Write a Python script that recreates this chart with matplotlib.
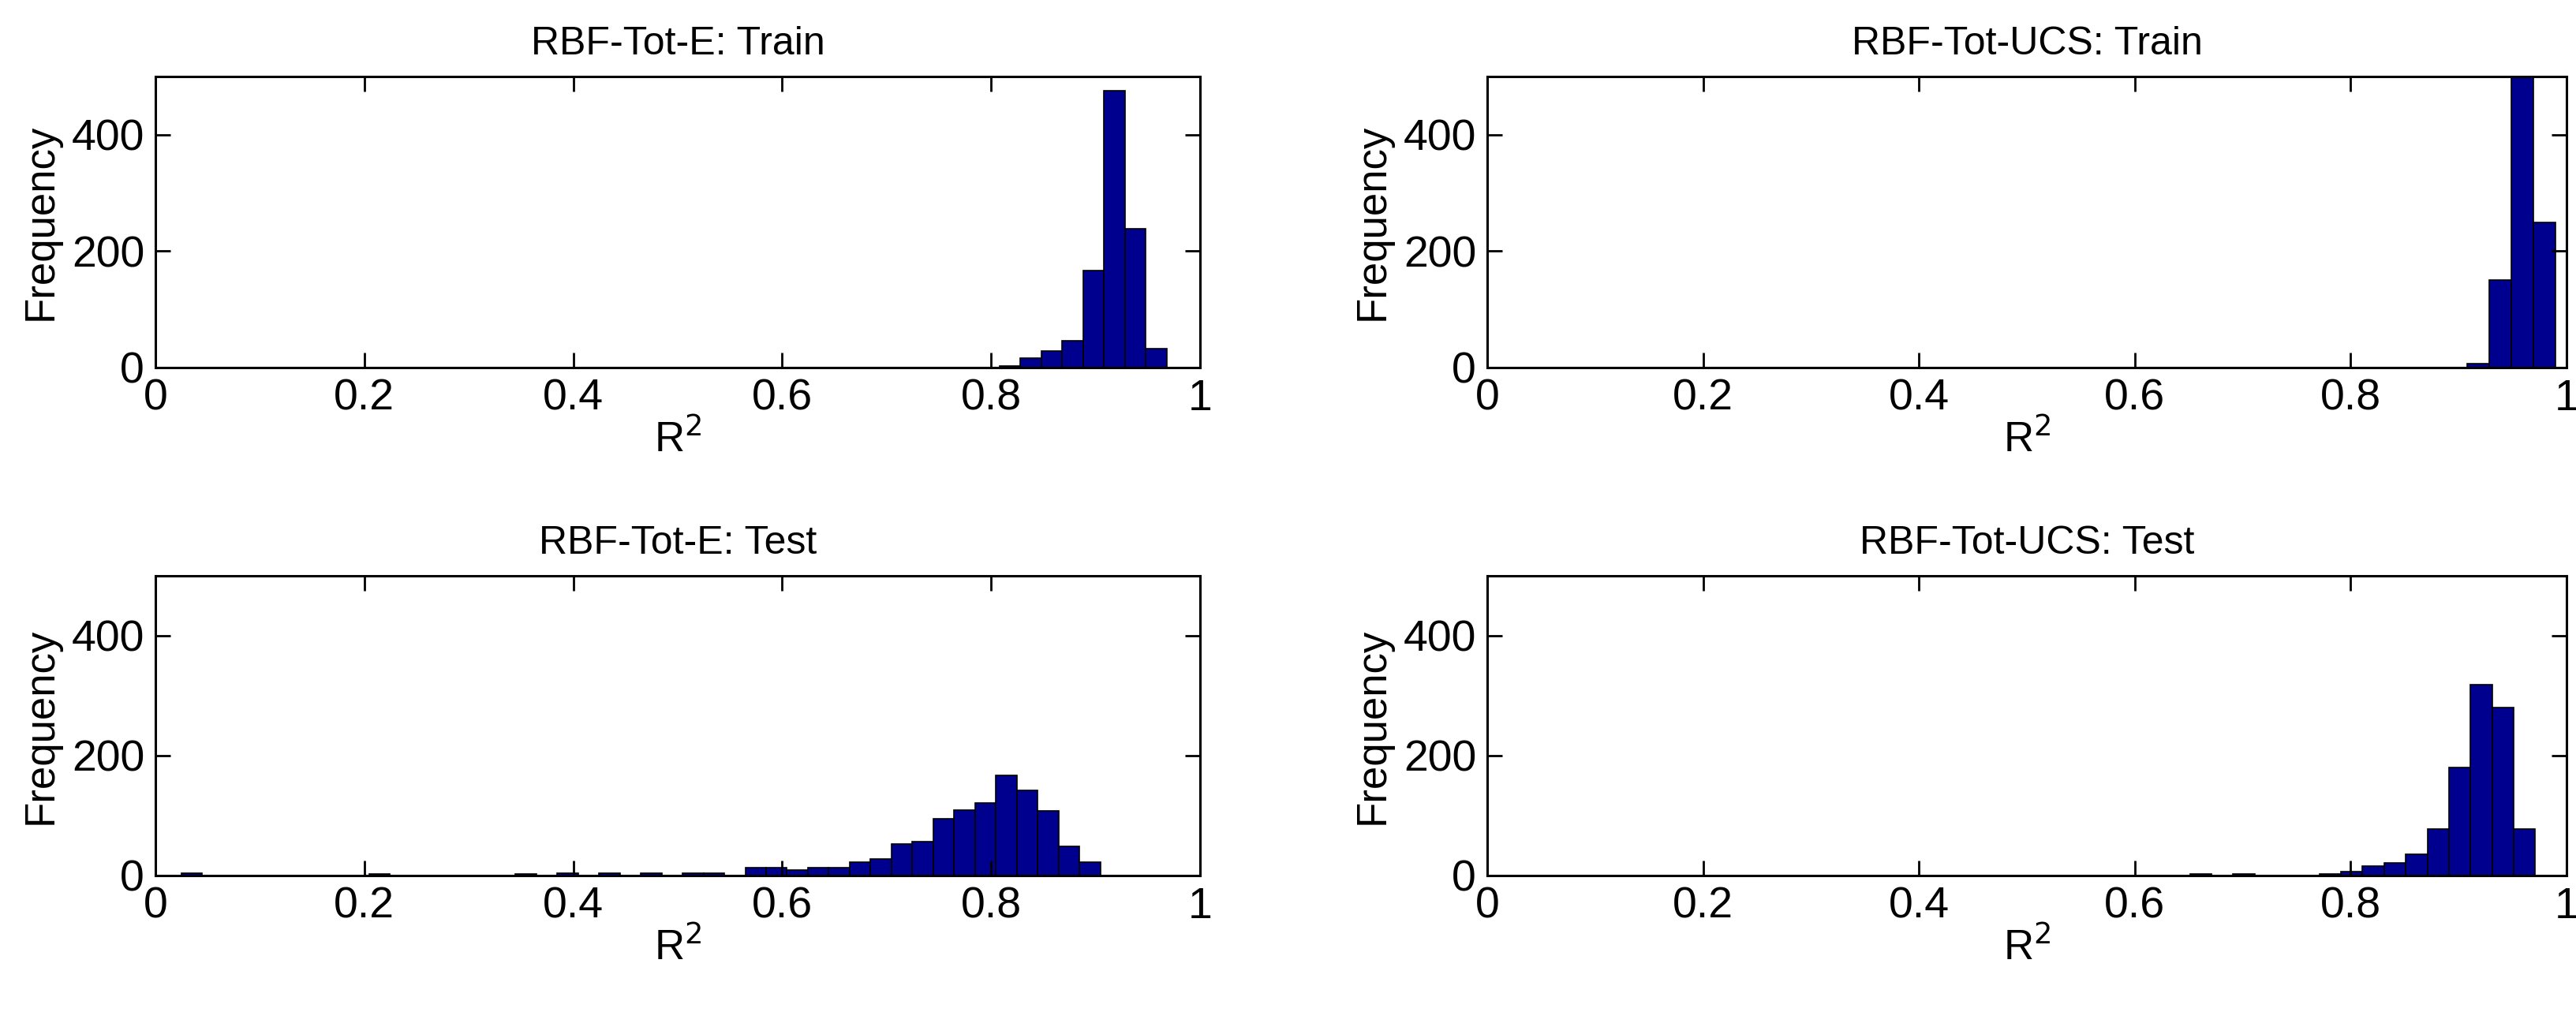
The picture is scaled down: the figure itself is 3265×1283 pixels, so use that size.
import numpy as np
import matplotlib
matplotlib.use("Agg")
import matplotlib.pyplot as plt

plt.rcParams["font.family"] = ["Liberation Sans", "DejaVu Sans"]

TITLES = ["RBF-Tot-E: Train", "RBF-Tot-UCS: Train", "RBF-Tot-E: Test", "RBF-Tot-UCS: Test"]

# histogram counts per panel, with first bin left edge and bin width
train_e_start, train_e_width = 0.808, 0.020
train_e_counts = [3, 16, 29, 46, 167, 475, 239, 33]

train_ucs_start, train_ucs_width = 0.908, 0.0205
train_ucs_counts = [7, 151, 593, 249]

test_e_start, test_e_width = 0.0246, 0.020
test_e_counts = [4, 0, 0, 0, 0, 0, 0, 0, 0, 3,
                 0, 0, 0, 0, 0, 0, 3, 0, 4, 0,
                 4, 0, 4, 0, 4, 4, 0, 13, 13, 9,
                 13, 13, 22, 27, 53, 57, 95, 109, 121, 167,
                 142, 108, 49, 23]

test_ucs_start, test_ucs_width = 0.651, 0.020
test_ucs_counts = [2, 0, 2, 0, 0, 0, 2, 6, 16, 21, 36, 78, 180, 318, 280, 78]

PANELS = [(train_e_start, train_e_width, train_e_counts),
          (train_ucs_start, train_ucs_width, train_ucs_counts),
          (test_e_start, test_e_width, test_e_counts),
          (test_ucs_start, test_ucs_width, test_ucs_counts)]

W, H = 3265, 1283
fig = plt.figure(figsize=(W / 100, H / 100), dpi=100)
LEFTS = [197, 1885]
RIGHTS = [1521, 3253]
ROWS = [(97, 466), (730, 1110)]

for k, (start, width, counts) in enumerate(PANELS):
    r, c = divmod(k, 2)
    x0, x1 = LEFTS[c], RIGHTS[c]
    top, bot = ROWS[r]
    ax = fig.add_axes([x0 / W, 1 - bot / H, (x1 - x0) / W, (bot - top) / H])
    edges = start + width * np.arange(len(counts))
    ax.bar(edges, counts, width=width, align="edge", color="#00008F",
           edgecolor="black", linewidth=1.2)
    ax.set_xlim(0, 1)
    ax.set_ylim(0, 500)
    ax.set_xticks([0, 0.2, 0.4, 0.6, 0.8, 1])
    ax.set_xticklabels(["0", "0.2", "0.4", "0.6", "0.8", "1"])
    ax.set_yticks([0, 200, 400])
    ax.tick_params(direction="in", length=14, width=2, labelsize=40,
                   top=True, right=True, pad=10)
    for s in ax.spines.values():
        s.set_linewidth(2.2)
    ax.set_title(TITLES[k], fontsize=36, pad=20)
    ax.set_ylabel("Frequency", fontsize=38, labelpad=10)
    ax.set_xlabel("R$^2$", fontsize=38, labelpad=0)

fig.savefig("out.png", dpi=100, facecolor="white")
